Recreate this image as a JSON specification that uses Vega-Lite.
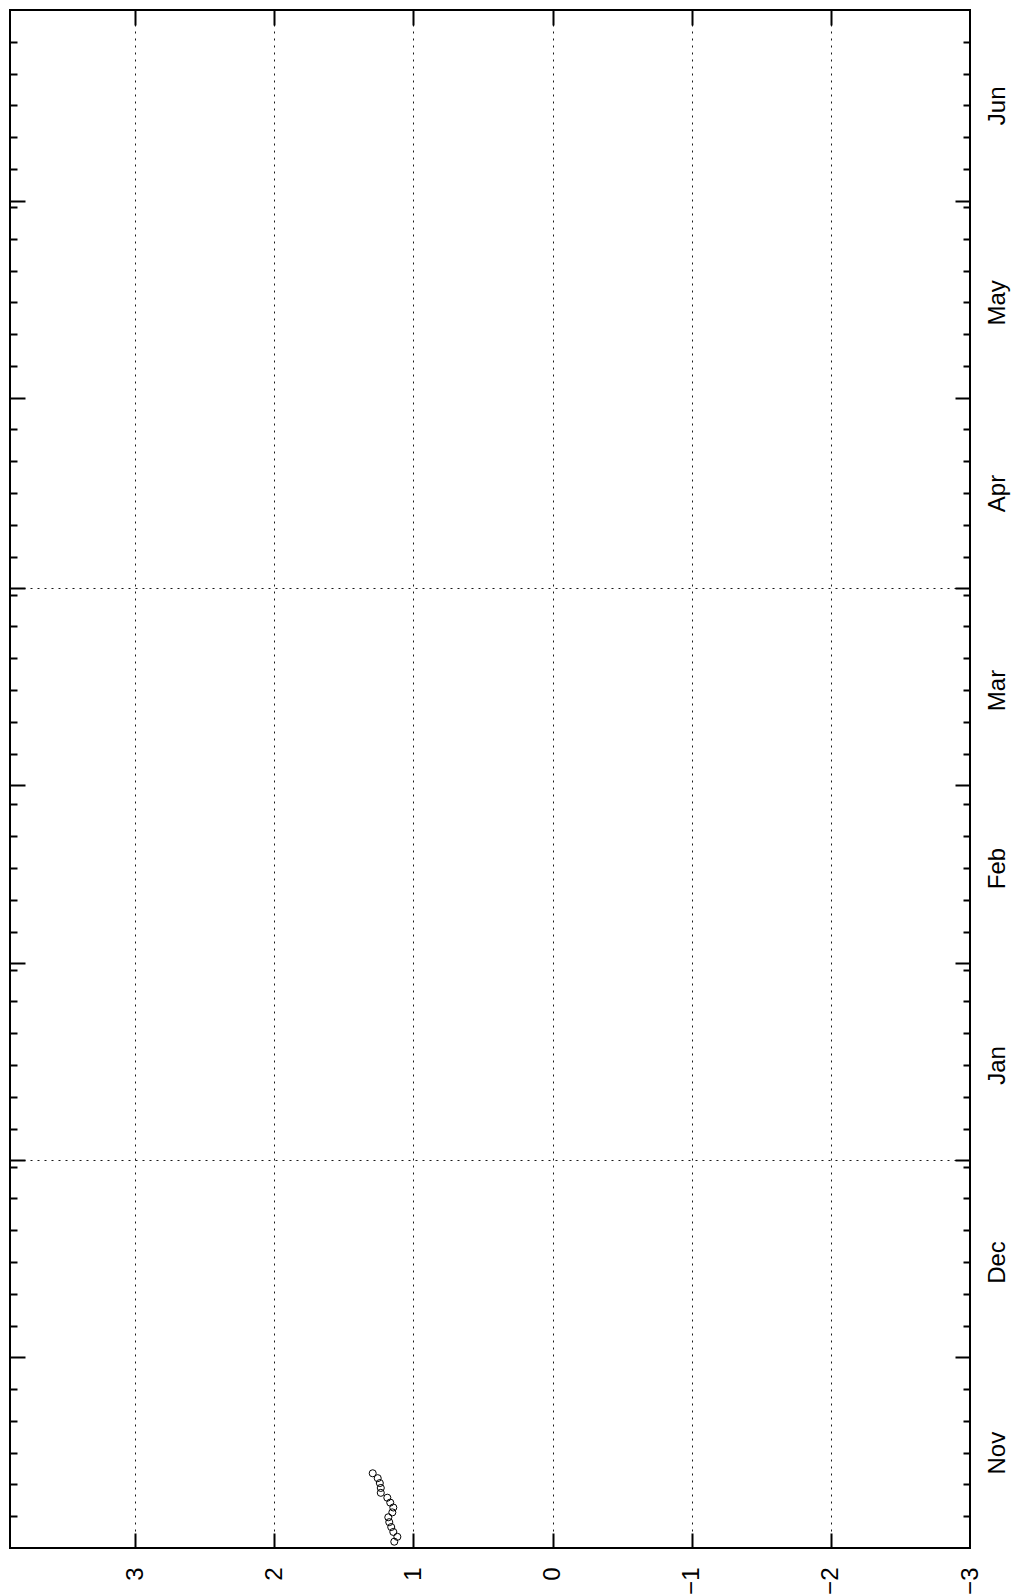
{
  "$schema": "https://vega.github.io/schema/vega-lite/v6.json",
  "width": 960,
  "height": 1538,
  "autosize": {"type": "none"},
  "padding": {"left": 10, "top": 10, "right": 46, "bottom": 48},
  "background": "white",
  "config": {
    "view": {"stroke": "#000", "strokeWidth": 2},
    "axis": {"labelFont": "Liberation Sans", "labelFontSize": 24, "labelColor": "#000", "tickColor": "#000", "tickWidth": 2, "domain": false, "title": null, "labelFlush": false, "labelOverlap": false, "labelBound": false, "gridColor": "#000", "gridWidth": 1, "gridDash": [2, 5], "gridOpacity": 0.9}
  },
  "data": {
    "values": [
      {"t": "2009-11-01T23:45:00", "v": 1.138},
      {"t": "2009-11-02T18:15:00", "v": 1.116},
      {"t": "2009-11-03T12:40:00", "v": 1.145},
      {"t": "2009-11-04T07:08:00", "v": 1.160},
      {"t": "2009-11-05T01:35:00", "v": 1.174},
      {"t": "2009-11-05T20:02:00", "v": 1.181},
      {"t": "2009-11-06T14:30:00", "v": 1.152},
      {"t": "2009-11-07T08:57:00", "v": 1.145},
      {"t": "2009-11-08T03:24:00", "v": 1.167},
      {"t": "2009-11-08T21:52:00", "v": 1.188},
      {"t": "2009-11-09T16:19:00", "v": 1.235},
      {"t": "2009-11-10T10:47:00", "v": 1.235},
      {"t": "2009-11-11T05:14:00", "v": 1.242},
      {"t": "2009-11-11T23:41:00", "v": 1.257},
      {"t": "2009-11-12T18:09:00", "v": 1.293}
    ]
  },
  "resolve": {"axis": {"x": "independent", "y": "independent"}},
  "layer": [
    {
      "mark": {"type": "point", "shape": "circle", "filled": false, "stroke": "#000", "strokeWidth": 1, "size": 50, "opacity": 1},
      "encoding": {
        "x": {"field": "v", "type": "quantitative",
          "scale": {"domain": [-3, 3.9], "reverse": true, "nice": false, "zero": false},
          "axis": {"orient": "bottom", "values": [-3, -2, -1, 0, 1, 2, 3], "format": "d", "ticks": false, "grid": true, "labelAngle": 270, "labelAlign": "right", "labelBaseline": "middle", "labelPadding": 19}},
        "y": {"field": "t", "type": "temporal",
          "scale": {"domain": [{"year": 2009, "month": 11, "date": 1}, {"year": 2010, "month": 7, "date": 1}], "nice": false},
          "axis": {"orient": "right", "format": "%b", "ticks": false, "grid": false, "labelAngle": 270, "labelAlign": "center", "labelBaseline": "top", "labelPadding": 15,
            "values": [
              {"year": 2009, "month": 11, "date": 16},
              {"year": 2009, "month": 12, "date": 16},
              {"year": 2010, "month": 1, "date": 16},
              {"year": 2010, "month": 2, "date": 16},
              {"year": 2010, "month": 3, "date": 16},
              {"year": 2010, "month": 4, "date": 16},
              {"year": 2010, "month": 5, "date": 16},
              {"year": 2010, "month": 6, "date": 16}
            ]}}
      }
    },
    {
      "mark": {"type": "point", "opacity": 0},
      "encoding": {
        "x": {"field": "v", "type": "quantitative",
          "axis": {"orient": "bottom", "values": [-2, -1, 0, 1, 2, 3], "labels": false, "grid": false, "ticks": true, "tickSize": -15}},
        "y": {"field": "t", "type": "temporal",
          "axis": {"orient": "right", "labels": false, "grid": false, "ticks": true, "tickSize": -15,
            "values": [
              {"year": 2009, "month": 12, "date": 1},
              {"year": 2010, "month": 1, "date": 1},
              {"year": 2010, "month": 2, "date": 1},
              {"year": 2010, "month": 3, "date": 1},
              {"year": 2010, "month": 4, "date": 1},
              {"year": 2010, "month": 5, "date": 1},
              {"year": 2010, "month": 6, "date": 1}
            ]}}
      }
    },
    {
      "mark": {"type": "point", "opacity": 0},
      "encoding": {
        "x": {"field": "v", "type": "quantitative",
          "axis": {"orient": "top", "values": [-2, -1, 0, 1, 2, 3], "labels": false, "grid": false, "ticks": true, "tickSize": -15}},
        "y": {"field": "t", "type": "temporal",
          "axis": {"orient": "right", "labels": false, "grid": false, "ticks": true, "tickSize": -7,
            "values": [
              {"year": 2009, "month": 11, "date": 6}, {"year": 2009, "month": 11, "date": 11}, {"year": 2009, "month": 11, "date": 16}, {"year": 2009, "month": 11, "date": 21}, {"year": 2009, "month": 11, "date": 26},
              {"year": 2009, "month": 12, "date": 6}, {"year": 2009, "month": 12, "date": 11}, {"year": 2009, "month": 12, "date": 16}, {"year": 2009, "month": 12, "date": 21}, {"year": 2009, "month": 12, "date": 26}, {"year": 2009, "month": 12, "date": 31},
              {"year": 2010, "month": 1, "date": 6}, {"year": 2010, "month": 1, "date": 11}, {"year": 2010, "month": 1, "date": 16}, {"year": 2010, "month": 1, "date": 21}, {"year": 2010, "month": 1, "date": 26}, {"year": 2010, "month": 1, "date": 31},
              {"year": 2010, "month": 2, "date": 6}, {"year": 2010, "month": 2, "date": 11}, {"year": 2010, "month": 2, "date": 16}, {"year": 2010, "month": 2, "date": 21}, {"year": 2010, "month": 2, "date": 26},
              {"year": 2010, "month": 3, "date": 6}, {"year": 2010, "month": 3, "date": 11}, {"year": 2010, "month": 3, "date": 16}, {"year": 2010, "month": 3, "date": 21}, {"year": 2010, "month": 3, "date": 26}, {"year": 2010, "month": 3, "date": 31},
              {"year": 2010, "month": 4, "date": 6}, {"year": 2010, "month": 4, "date": 11}, {"year": 2010, "month": 4, "date": 16}, {"year": 2010, "month": 4, "date": 21}, {"year": 2010, "month": 4, "date": 26},
              {"year": 2010, "month": 5, "date": 6}, {"year": 2010, "month": 5, "date": 11}, {"year": 2010, "month": 5, "date": 16}, {"year": 2010, "month": 5, "date": 21}, {"year": 2010, "month": 5, "date": 26}, {"year": 2010, "month": 5, "date": 31},
              {"year": 2010, "month": 6, "date": 6}, {"year": 2010, "month": 6, "date": 11}, {"year": 2010, "month": 6, "date": 16}, {"year": 2010, "month": 6, "date": 21}, {"year": 2010, "month": 6, "date": 26}
            ]}}
      }
    },
    {
      "mark": {"type": "point", "opacity": 0},
      "encoding": {
        "x": {"field": "v", "type": "quantitative", "axis": null},
        "y": {"field": "t", "type": "temporal",
          "axis": {"orient": "left", "labels": false, "grid": false, "ticks": true, "tickSize": -15,
            "values": [
              {"year": 2009, "month": 12, "date": 1},
              {"year": 2010, "month": 1, "date": 1},
              {"year": 2010, "month": 2, "date": 1},
              {"year": 2010, "month": 3, "date": 1},
              {"year": 2010, "month": 4, "date": 1},
              {"year": 2010, "month": 5, "date": 1},
              {"year": 2010, "month": 6, "date": 1}
            ]}}
      }
    },
    {
      "mark": {"type": "point", "opacity": 0},
      "encoding": {
        "x": {"field": "v", "type": "quantitative", "axis": null},
        "y": {"field": "t", "type": "temporal",
          "axis": {"orient": "left", "labels": false, "grid": false, "ticks": true, "tickSize": -7,
            "values": [
              {"year": 2009, "month": 11, "date": 6}, {"year": 2009, "month": 11, "date": 11}, {"year": 2009, "month": 11, "date": 16}, {"year": 2009, "month": 11, "date": 21}, {"year": 2009, "month": 11, "date": 26},
              {"year": 2009, "month": 12, "date": 6}, {"year": 2009, "month": 12, "date": 11}, {"year": 2009, "month": 12, "date": 16}, {"year": 2009, "month": 12, "date": 21}, {"year": 2009, "month": 12, "date": 26}, {"year": 2009, "month": 12, "date": 31},
              {"year": 2010, "month": 1, "date": 6}, {"year": 2010, "month": 1, "date": 11}, {"year": 2010, "month": 1, "date": 16}, {"year": 2010, "month": 1, "date": 21}, {"year": 2010, "month": 1, "date": 26}, {"year": 2010, "month": 1, "date": 31},
              {"year": 2010, "month": 2, "date": 6}, {"year": 2010, "month": 2, "date": 11}, {"year": 2010, "month": 2, "date": 16}, {"year": 2010, "month": 2, "date": 21}, {"year": 2010, "month": 2, "date": 26},
              {"year": 2010, "month": 3, "date": 6}, {"year": 2010, "month": 3, "date": 11}, {"year": 2010, "month": 3, "date": 16}, {"year": 2010, "month": 3, "date": 21}, {"year": 2010, "month": 3, "date": 26}, {"year": 2010, "month": 3, "date": 31},
              {"year": 2010, "month": 4, "date": 6}, {"year": 2010, "month": 4, "date": 11}, {"year": 2010, "month": 4, "date": 16}, {"year": 2010, "month": 4, "date": 21}, {"year": 2010, "month": 4, "date": 26},
              {"year": 2010, "month": 5, "date": 6}, {"year": 2010, "month": 5, "date": 11}, {"year": 2010, "month": 5, "date": 16}, {"year": 2010, "month": 5, "date": 21}, {"year": 2010, "month": 5, "date": 26}, {"year": 2010, "month": 5, "date": 31},
              {"year": 2010, "month": 6, "date": 6}, {"year": 2010, "month": 6, "date": 11}, {"year": 2010, "month": 6, "date": 16}, {"year": 2010, "month": 6, "date": 21}, {"year": 2010, "month": 6, "date": 26}
            ]}}
      }
    },
    {
      "mark": {"type": "point", "opacity": 0},
      "encoding": {
        "x": {"field": "v", "type": "quantitative", "axis": null},
        "y": {"field": "t", "type": "temporal",
          "axis": {"orient": "left", "labels": false, "ticks": false, "grid": true,
            "values": [
              {"year": 2010, "month": 1, "date": 1},
              {"year": 2010, "month": 4, "date": 1}
            ]}}
      }
    }
  ]
}
